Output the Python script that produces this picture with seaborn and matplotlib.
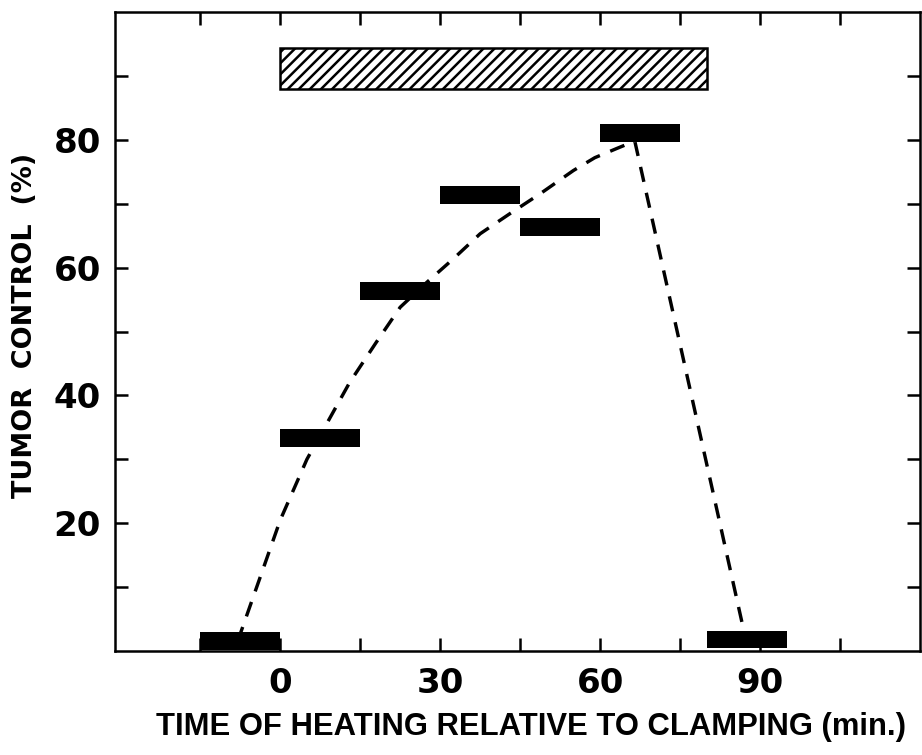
import matplotlib
matplotlib.use("Agg")
import matplotlib.pyplot as plt
import pandas as pd
import seaborn as sns

DPI = 133


def px(v):
    """Convert a length in pixels to points at the output resolution."""
    return v * 72.0 / DPI


# Tumor control for each 15-minute heating window
window_start = [-15, 0, 15, 30, 45, 60, 80]
window_width = 15
tumor_control = [1.5, 33.3, 56.3, 71.4, 66.4, 81.1, 1.8]

# Clamping period, drawn as a hatched band near the top
clamp_start, clamp_end = 0, 80
clamp_low, clamp_high = 88.0, 94.4

# Dashed trend line through the heating windows
trend_time = [-8, -4, 0, 5, 9, 13, 18, 22.5, 27.5, 32.5, 37.5, 43, 49, 55, 59, 63, 66.5, 87]
trend_control = [1.5, 11, 20.5, 30, 36, 42, 48.3, 53.8, 57.7, 61.4, 65.3, 68.4, 71.7, 75.2, 77.2, 78.6, 79.8, 3]

x_major = [0, 30, 60, 90]
x_minor = [-15, 15, 45, 75, 105]
y_major = [20, 40, 60, 80]
y_minor = [10, 30, 50, 70, 90]

sns.set_style("ticks")
plt.rcParams["hatch.linewidth"] = px(2.5)
plt.rcParams["hatch.color"] = "black"
plt.rcParams["text.color"] = "black"
plt.rcParams["xtick.color"] = "black"
plt.rcParams["ytick.color"] = "black"
plt.rcParams["xtick.labelcolor"] = "black"
plt.rcParams["ytick.labelcolor"] = "black"

fig = plt.figure(figsize=(922 / DPI, 755 / DPI), dpi=DPI)
ax = fig.add_axes([115 / 922, 104 / 755, 805 / 922, 639 / 755])

trend = pd.DataFrame({"time": trend_time, "control": trend_control})
sns.lineplot(data=trend, x="time", y="control", ax=ax, color="black",
             linewidth=px(3.4), linestyle=(0, (4.5, 3.3)), sort=False,
             estimator=None, zorder=2)

# Solid bars for each heating window
ax.barh(tumor_control, [window_width] * len(window_start), left=window_start,
        height=2.8, color="black", edgecolor="black", linewidth=0, zorder=3)

# Hatched clamping band
ax.barh((clamp_low + clamp_high) / 2, clamp_end - clamp_start, left=clamp_start,
        height=clamp_high - clamp_low, facecolor="white", edgecolor="black",
        hatch="////", linewidth=px(2.5), zorder=3)

ax.set_xlim(-31, 120)
ax.set_ylim(0, 100)
ax.set_xticks(x_major)
ax.set_xticks(x_minor, minor=True)
ax.set_yticks(y_major)
ax.set_yticks(y_minor, minor=True)

tick_font = {"family": ["DejaVu Sans"], "weight": "bold", "size": px(34),
             "color": "black"}
ax.set_xticklabels([str(v) for v in x_major], fontdict=tick_font)
ax.set_yticklabels([str(v) for v in y_major], fontdict=tick_font)

for which in ("major", "minor"):
    ax.tick_params(axis="both", which=which, direction="in", length=px(13),
                   width=px(2.5), top=True, right=True, color="black")
ax.tick_params(axis="x", which="major", pad=px(16))
ax.tick_params(axis="y", which="major", pad=px(14))

for side in ("left", "right", "top", "bottom"):
    ax.spines[side].set_visible(True)
    ax.spines[side].set_linewidth(px(2.5))
    ax.spines[side].set_color("black")

ax.set_xlabel("")
ax.set_ylabel("")

fig.text(25 / 922, 1 - 325 / 755, "TUMOR  CONTROL  (%)", rotation=90,
         ha="center", va="center", family=["DejaVu Sans"], weight="bold",
         size=px(27), color="black")
fig.text(531 / 922, 1 - 727 / 755, "TIME OF HEATING RELATIVE TO CLAMPING (min.)",
         ha="center", va="center",
         family=["Liberation Sans", "DejaVu Sans"], weight="bold",
         size=px(31), color="black")

fig.savefig("out.png", dpi=DPI, facecolor="white")
